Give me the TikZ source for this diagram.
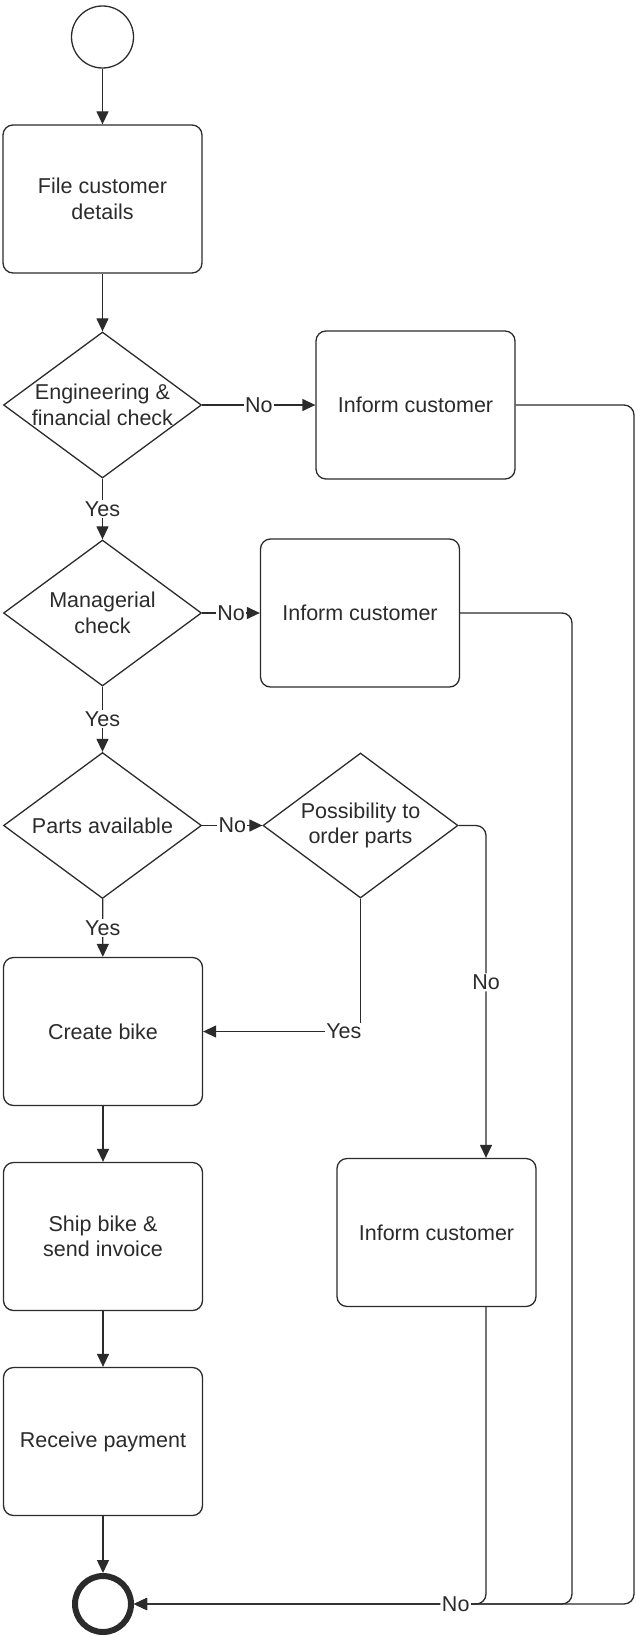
\documentclass[tikz,border=0pt]{standalone}
\usepackage{fontspec}
\setmainfont{Liberation Sans}
\usetikzlibrary{shapes.geometric,arrows.meta}
\definecolor{ink}{HTML}{2B2B2B}
\begin{document}
\begin{tikzpicture}[x=1pt,y=-1pt,
  font=\fontsize{21.5}{25.5}\selectfont,
  every node/.style={text=ink},
  line/.style={draw=ink, line width=1.3pt},
  flow/.style={line, -{Triangle[length=13pt,width=12pt]}},
  task/.style={draw=ink, line width=1.3pt, rounded corners=10pt,
    minimum width=199pt, minimum height=148pt, align=center, inner sep=0pt},
  decision/.style={draw=ink, line width=1.3pt, diamond,
    minimum width=198pt, minimum height=146pt, inner sep=0pt},
  lbl/.style={fill=white, inner sep=1.5pt},
]
\useasboundingbox (0,0) rectangle (636,1637);

% events
\node[draw=ink, line width=1.3pt, circle, minimum size=62pt, inner sep=0pt] (start) at (102.5,37) {};
\node[draw=ink, line width=6pt, circle, minimum size=56pt, inner sep=0pt] (end) at (103,1604) {};

% main column
\node[task] (b1) at (102.5,199) {File customer\\details};
\node[decision, label={[align=center]center:Engineering \&\\financial check}] (d1) at (102.5,405) {};
\node[decision, label={[align=center]center:Managerial\\check}] (d2) at (102.5,613) {};
\node[decision, label={[align=center]center:Parts available}] (d3) at (102.5,825.5) {};
\node[task] (b2) at (103,1031.5) {Create bike};
\node[task] (b3) at (103,1236.5) {Ship bike \&\\send invoice};
\node[task] (b4) at (103,1441.5) {Receive payment};

% side branches
\node[task] (i1) at (415.5,405) {Inform customer};
\node[task] (i2) at (360,613) {Inform customer};
\node[decision, minimum width=195pt, minimum height=145pt,
      label={[align=center]center:Possibility to\\order parts}] (d4) at (360.5,825.5) {};
\node[task] (i3) at (436.5,1232.5) {Inform customer};

% routing columns
\coordinate (colx) at (486,825.5);
\coordinate (r2) at (572,1604);
\coordinate (r1) at (634,1604);

% connectors
\draw[flow] (start) -- (b1);
\draw[flow] (b1) -- (d1);
\draw[flow] (d1) -- node[lbl]{Yes} (d2);
\draw[flow] (d1.east) -- node[lbl]{No} (i1.west);
\draw[flow] (d2) -- node[lbl]{Yes} (d3);
\draw[flow] (d2.east) -- node[lbl]{No} (i2.west);
\draw[flow] (d3) -- node[lbl]{Yes} (b2);
\draw[flow] (d3.east) -- node[lbl]{No} (d4.west);
\draw[flow, rounded corners=10pt] (d4.east) -| node[lbl, pos=0.736]{No} (i3.north -| colx);
\draw[flow] (d4.south) |- node[lbl, pos=0.5, anchor=east, xshift=3pt]{Yes} (b2.east);
\draw[flow] (b2) -- (b3);
\draw[flow] (b3) -- (b4);
\draw[flow] (b4) -- (end);
\draw[flow, rounded corners=10pt] (i1.east) -| (r1) -- (end.east);
\draw[flow, rounded corners=10pt] (i2.east) -| (r2) -- (end.east);
\draw[flow, rounded corners=10pt] (i3.south -| colx) |- node[lbl, pos=0.543]{No} (end.east);
\end{tikzpicture}
\end{document}
